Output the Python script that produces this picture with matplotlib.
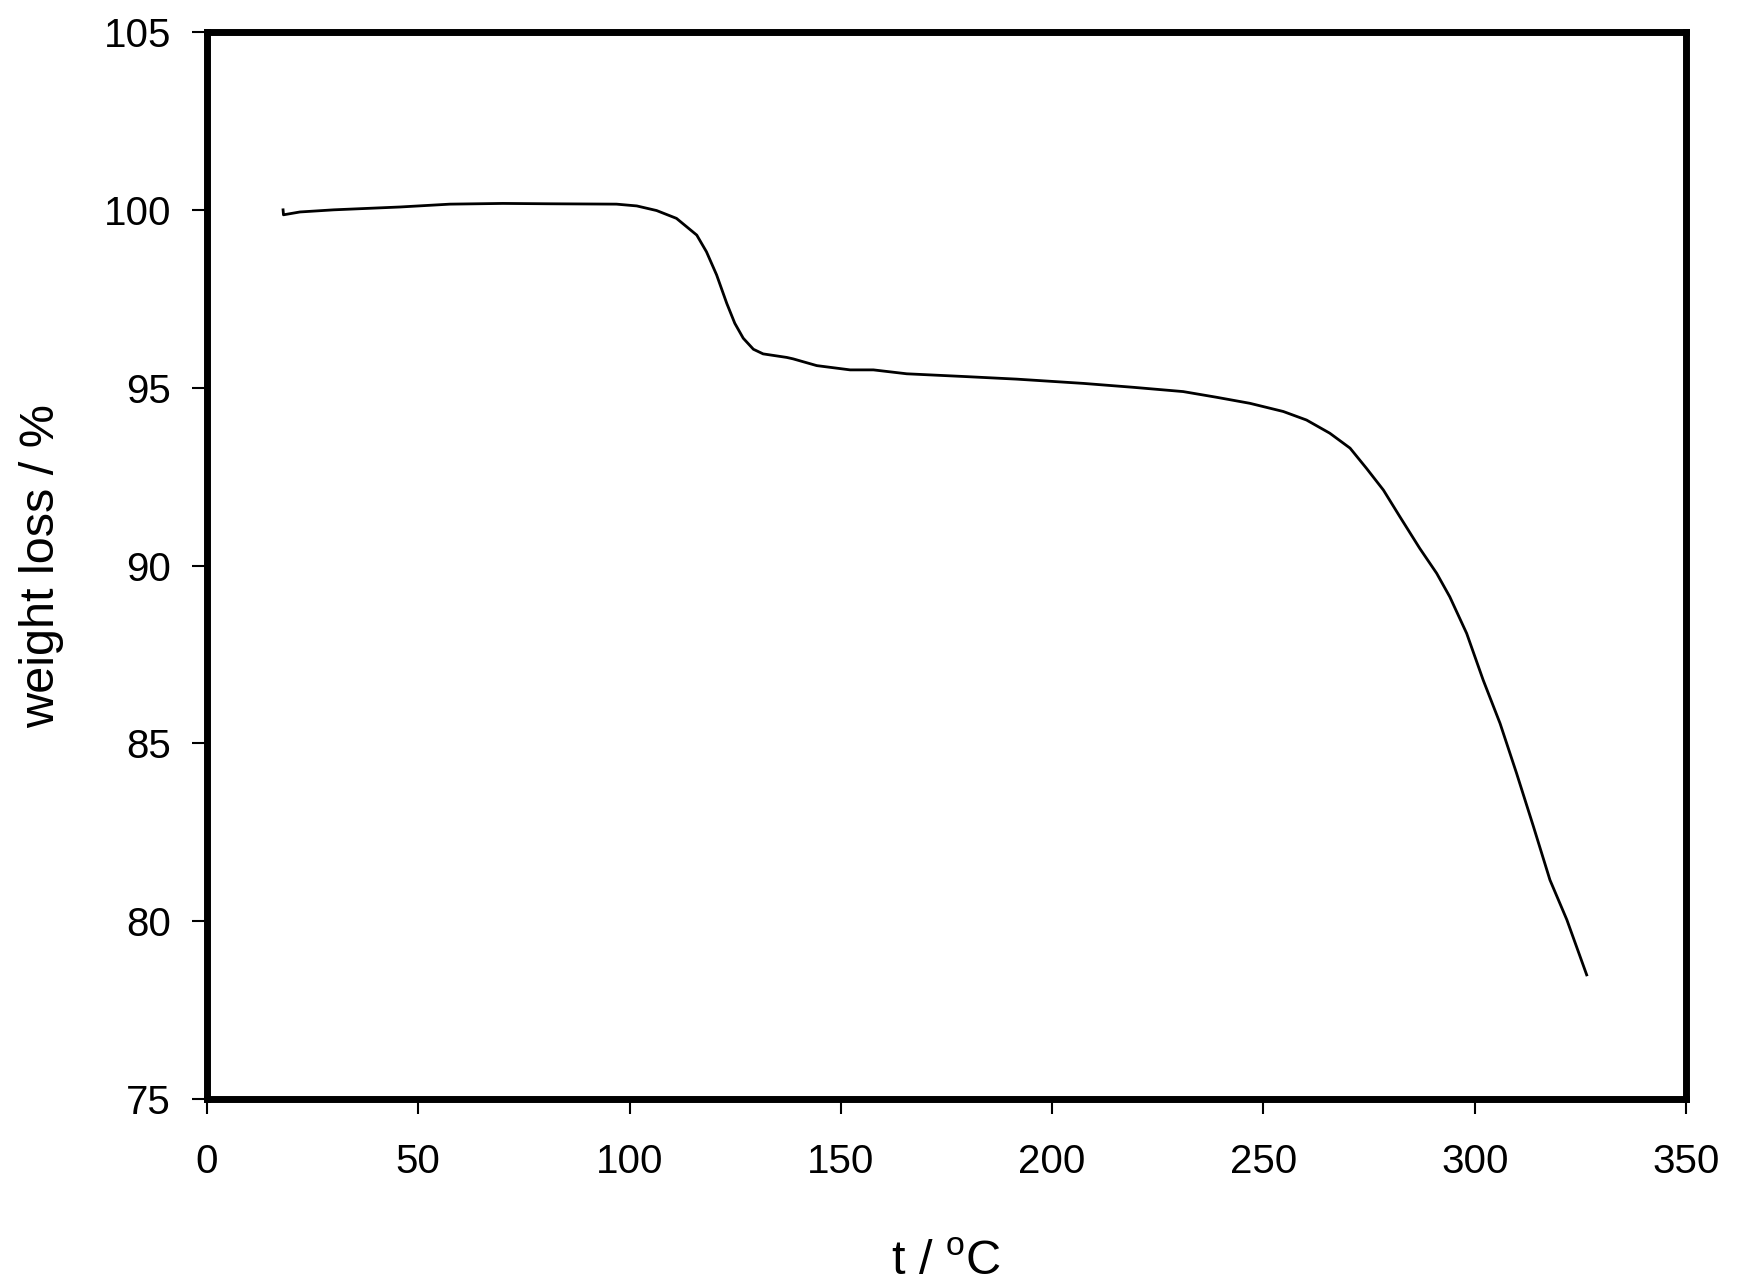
import matplotlib
matplotlib.use('Agg')
import matplotlib.pyplot as plt

# TGA curve
temp = [18.0, 18.1, 22.0, 30.0, 45.7, 57.5, 70.0, 81.2, 96.9, 101.7, 106.4,
        111.1, 115.9, 118.2, 120.6, 123.0, 124.9, 126.9, 129.3, 131.6, 137.2,
        138.7, 144.3, 152.2, 157.7, 165.6, 179.8, 191.6, 207.4, 219.2, 231.0,
        238.9, 246.8, 254.7, 260.2, 265.7, 270.5, 274.4, 278.4, 282.3, 287.0,
        291.0, 294.1, 298.1, 302.0, 306.0, 309.9, 313.9, 317.8, 321.8, 326.5]
weight = [100.0, 99.86, 99.94, 100.0, 100.08, 100.16, 100.18, 100.17, 100.16,
          100.11, 99.98, 99.76, 99.29, 98.82, 98.17, 97.37, 96.81, 96.39,
          96.08, 95.95, 95.85, 95.81, 95.62, 95.50, 95.50, 95.39, 95.31,
          95.24, 95.12, 95.01, 94.89, 94.73, 94.56, 94.33, 94.09, 93.72,
          93.30, 92.73, 92.12, 91.37, 90.48, 89.78, 89.12, 88.09, 86.78,
          85.56, 84.16, 82.66, 81.16, 80.04, 78.49]

xticks = [0, 50, 100, 150, 200, 250, 300, 350]
yticks = [75, 80, 85, 90, 95, 100, 105]

plt.rcParams['font.family'] = ['Liberation Sans', 'DejaVu Sans']
plt.rcParams['mathtext.fontset'] = 'custom'
plt.rcParams['mathtext.rm'] = 'Liberation Sans'

fig = plt.figure(figsize=(17.39, 12.84), dpi=100)
ax = fig.add_axes([207/1739, 1 - 1099/1284, (1686-207)/1739, (1099-32)/1284])

ax.plot(temp, weight, color='black', linewidth=2.0)

ax.set_xlim(0, 350)
ax.set_ylim(75, 105)
ax.set_xticks(xticks)
ax.set_yticks(yticks)
for s in ax.spines.values():
    s.set_linewidth(5)
ax.tick_params(direction='out', length=11, width=1.5, labelsize=29)
ax.tick_params(axis='y', pad=15)
ax.tick_params(axis='x', pad=21)

ax.set_xlabel('t / $^\\mathregular{o}$C', fontsize=35, labelpad=42)
ax.set_ylabel('weight loss / %', fontsize=35, labelpad=28)

fig.savefig('out.png', dpi=100)
